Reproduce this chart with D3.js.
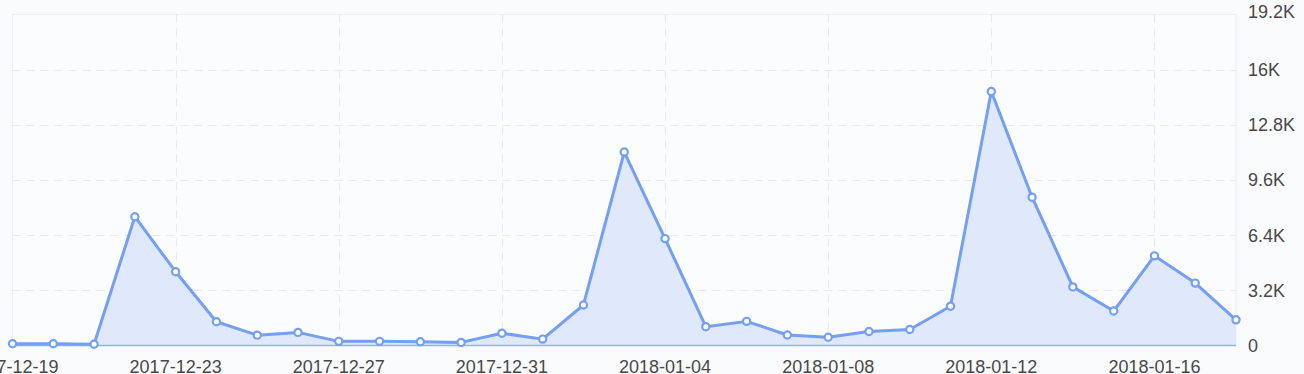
<!DOCTYPE html>
<html>
<head>
<meta charset="utf-8">
<script src="https://cdn.jsdelivr.net/npm/d3@7"></script>
<style>
  html, body { margin: 0; padding: 0; background: #fafbfd; }
  svg { display: block; }
  .tick-label { font-family: Arial, "Liberation Sans", sans-serif; font-size: 18px; fill: #484848; }
</style>
</head>
<body>
<div class="chart"></div>
<script>
// chart data
var dates = ["2017-12-19","2017-12-20","2017-12-21","2017-12-22","2017-12-23","2017-12-24","2017-12-25",
  "2017-12-26","2017-12-27","2017-12-28","2017-12-29","2017-12-30","2017-12-31","2018-01-01",
  "2018-01-02","2018-01-03","2018-01-04","2018-01-05","2018-01-06","2018-01-07","2018-01-08",
  "2018-01-09","2018-01-10","2018-01-11","2018-01-12","2018-01-13","2018-01-14","2018-01-15",
  "2018-01-16","2018-01-17","2018-01-18"];
var values = [100, 100, 70, 7470, 4280, 1380, 600, 760, 240, 240, 220, 180, 710, 370,
  2350, 11220, 6200, 1090, 1400, 610, 480, 810, 930, 2280, 14730, 8600, 3400, 2000,
  5200, 3620, 1490];
var yTicks = [0, 3200, 6400, 9600, 12800, 16000, 19200];
var yTickLabels = ["0", "3.2K", "6.4K", "9.6K", "12.8K", "16K", "19.2K"];
var xTickDates = ["2017-12-19","2017-12-23","2017-12-27","2017-12-31","2018-01-04","2018-01-08","2018-01-12","2018-01-16"];

var svgWidth = 1304;
var svgHeight = 374;
var plot = { left: 12.5, right: 1236, top: 14.5, bottom: 345.5 };

var lineColor = "#749ff2";
var gridColor = "#e7e9f2";

var svg = d3.select(".chart")
  .append("svg")
  .attr("width", svgWidth)
  .attr("height", svgHeight);

svg.append("rect")
  .attr("width", svgWidth)
  .attr("height", svgHeight)
  .attr("fill", "#fafbfd");

var x = d3.scalePoint().domain(dates).range([plot.left, plot.right]);
var y = d3.scaleLinear().domain([0, 19200]).range([plot.bottom, plot.top]);

// plot frame
svg.append("rect")
  .attr("x", plot.left)
  .attr("y", plot.top)
  .attr("width", plot.right - plot.left)
  .attr("height", plot.bottom - plot.top)
  .attr("fill", "#fbfcfe")
  .attr("stroke", "#eceef6")
  .attr("stroke-width", 1);

// horizontal grid
svg.append("g")
  .selectAll("line")
  .data(yTicks.slice(1, -1))
  .enter().append("line")
  .attr("x1", plot.left)
  .attr("x2", plot.right)
  .attr("y1", function(d) { return Math.round(y(d)) + 0.5; })
  .attr("y2", function(d) { return Math.round(y(d)) + 0.5; })
  .attr("stroke", gridColor)
  .attr("stroke-dasharray", "8,6");

// vertical grid
svg.append("g")
  .selectAll("line")
  .data(xTickDates.slice(1))
  .enter().append("line")
  .attr("x1", function(d) { return Math.round(x(d)) + 0.5; })
  .attr("x2", function(d) { return Math.round(x(d)) + 0.5; })
  .attr("y1", plot.top)
  .attr("y2", plot.bottom)
  .attr("stroke", gridColor)
  .attr("stroke-dasharray", "8,6");

var data = dates.map(function(d, i) { return { date: d, value: values[i] }; });

var area = d3.area()
  .x(function(d) { return x(d.date); })
  .y0(plot.bottom)
  .y1(function(d) { return y(d.value); });

var line = d3.line()
  .x(function(d) { return x(d.date); })
  .y(function(d) { return y(d.value); });

svg.append("path")
  .datum(data)
  .attr("d", area)
  .attr("fill", "#dfe9fb");

// x axis line
svg.append("line")
  .attr("x1", plot.left)
  .attr("x2", plot.right)
  .attr("y1", plot.bottom)
  .attr("y2", plot.bottom)
  .attr("stroke", "#8fb2f2")
  .attr("stroke-width", 1.5);

svg.append("path")
  .datum(data)
  .attr("d", line)
  .attr("fill", "none")
  .attr("stroke", lineColor)
  .attr("stroke-width", 3)
  .attr("stroke-linejoin", "round");

svg.append("g")
  .selectAll("circle")
  .data(data)
  .enter().append("circle")
  .attr("cx", function(d) { return x(d.date); })
  .attr("cy", function(d) { return y(d.value); })
  .attr("r", 3.6)
  .attr("fill", "#fff")
  .attr("stroke", lineColor)
  .attr("stroke-width", 2.2);

// x labels
svg.append("g")
  .selectAll("text")
  .data(xTickDates)
  .enter().append("text")
  .attr("class", "tick-label")
  .attr("x", function(d) { return x(d); })
  .attr("y", 372.5)
  .attr("text-anchor", "middle")
  .text(function(d) { return d; });

// y labels on the right
svg.append("g")
  .selectAll("text")
  .data(yTicks)
  .enter().append("text")
  .attr("class", "tick-label")
  .attr("x", 1248)
  .attr("y", function(d, i) { return y(d) + (i === yTicks.length - 1 ? -2.5 : 0); })
  .attr("dy", "0.36em")
  .text(function(d, i) { return yTickLabels[i]; });
</script>
</body>
</html>
